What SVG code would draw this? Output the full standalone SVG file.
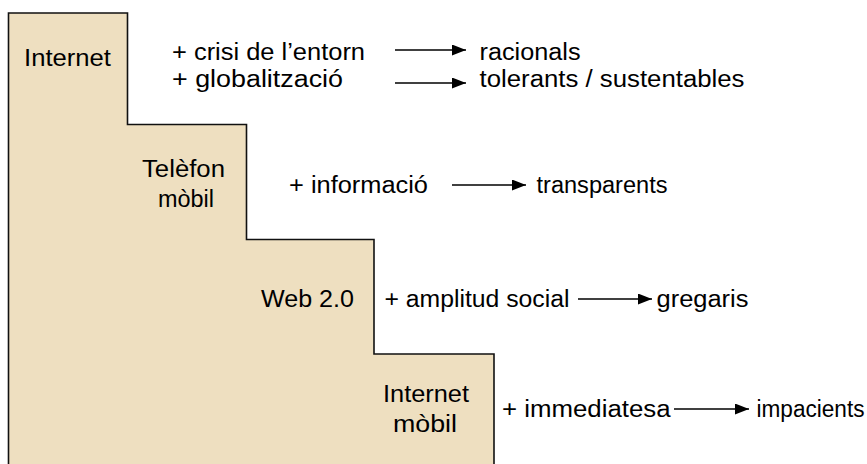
<svg xmlns="http://www.w3.org/2000/svg" width="867" height="464" viewBox="0 0 867 464">
  <style>
    text { font-family: "Liberation Sans", Arial, sans-serif; font-size: 23px; fill: #000; }
    .conn line { stroke: #000; stroke-width: 1.6; }
  </style>
  <defs>
    <marker id="arrow" viewBox="0 0 14 11" refX="14" refY="5.5" markerWidth="14" markerHeight="11" markerUnits="userSpaceOnUse" orient="auto">
      <path d="M0,0 L14,5.5 L0,11 Z" fill="#000"/>
    </marker>
  </defs>
  <rect width="867" height="464" fill="#fff"/>

  <!-- staircase of technologies -->
  <g id="staircase">
    <path d="M8.5,470 L8.5,13 L127.5,13 L127.5,124.5 L246.5,124.5 L246.5,239.5 L374,239.5 L374,354 L494,354 L494,470"
          fill="#EEDFC0" stroke="#111" stroke-width="1.6"/>
  </g>

  <g id="step-internet">
    <text x="24" y="65.5" textLength="87" lengthAdjust="spacingAndGlyphs">Internet</text>
  </g>
  <g id="step-telefon">
    <text x="142" y="177" textLength="83" lengthAdjust="spacingAndGlyphs">Telèfon</text>
    <text x="158" y="207" textLength="56" lengthAdjust="spacingAndGlyphs">mòbil</text>
  </g>
  <g id="step-web">
    <text x="261" y="307" textLength="93" lengthAdjust="spacingAndGlyphs">Web 2.0</text>
  </g>
  <g id="step-internet-mobil">
    <text x="383" y="402" textLength="86" lengthAdjust="spacingAndGlyphs">Internet</text>
    <text x="393" y="432" textLength="64" lengthAdjust="spacingAndGlyphs">mòbil</text>
  </g>

  <!-- factors -->
  <g id="factor-crisi">
    <text x="172" y="59.5" textLength="193" lengthAdjust="spacingAndGlyphs">+ crisi de l’entorn</text>
  </g>
  <g id="factor-global">
    <text x="172" y="86.5" textLength="171" lengthAdjust="spacingAndGlyphs">+ globalització</text>
  </g>
  <g id="factor-info">
    <text x="289" y="192.5" textLength="139" lengthAdjust="spacingAndGlyphs">+ informació</text>
  </g>
  <g id="factor-social">
    <text x="384.5" y="307" textLength="185" lengthAdjust="spacingAndGlyphs">+ amplitud social</text>
  </g>
  <g id="factor-immediatesa">
    <text x="502" y="417" textLength="168.5" lengthAdjust="spacingAndGlyphs">+ immediatesa</text>
  </g>

  <!-- resulting traits -->
  <g id="trait-racionals">
    <text x="479.5" y="59.5" textLength="101" lengthAdjust="spacingAndGlyphs">racionals</text>
  </g>
  <g id="trait-tolerants">
    <text x="479.5" y="86.5" textLength="265" lengthAdjust="spacingAndGlyphs">tolerants / sustentables</text>
  </g>
  <g id="trait-transparents">
    <text x="536.5" y="192.5" textLength="131" lengthAdjust="spacingAndGlyphs">transparents</text>
  </g>
  <g id="trait-gregaris">
    <text x="656.5" y="307" textLength="92" lengthAdjust="spacingAndGlyphs">gregaris</text>
  </g>
  <g id="trait-impacients">
    <text x="756.5" y="417" textLength="108" lengthAdjust="spacingAndGlyphs">impacients</text>
  </g>

  <!-- connectors -->
  <g id="connectors" class="conn">
    <line x1="395" y1="50" x2="466" y2="50" marker-end="url(#arrow)"/>
    <line x1="395" y1="83" x2="466" y2="83" marker-end="url(#arrow)"/>
    <line x1="452" y1="185" x2="526" y2="185" marker-end="url(#arrow)"/>
    <line x1="578" y1="299" x2="652" y2="299" marker-end="url(#arrow)"/>
    <line x1="674" y1="409" x2="749" y2="409" marker-end="url(#arrow)"/>
  </g>
</svg>
